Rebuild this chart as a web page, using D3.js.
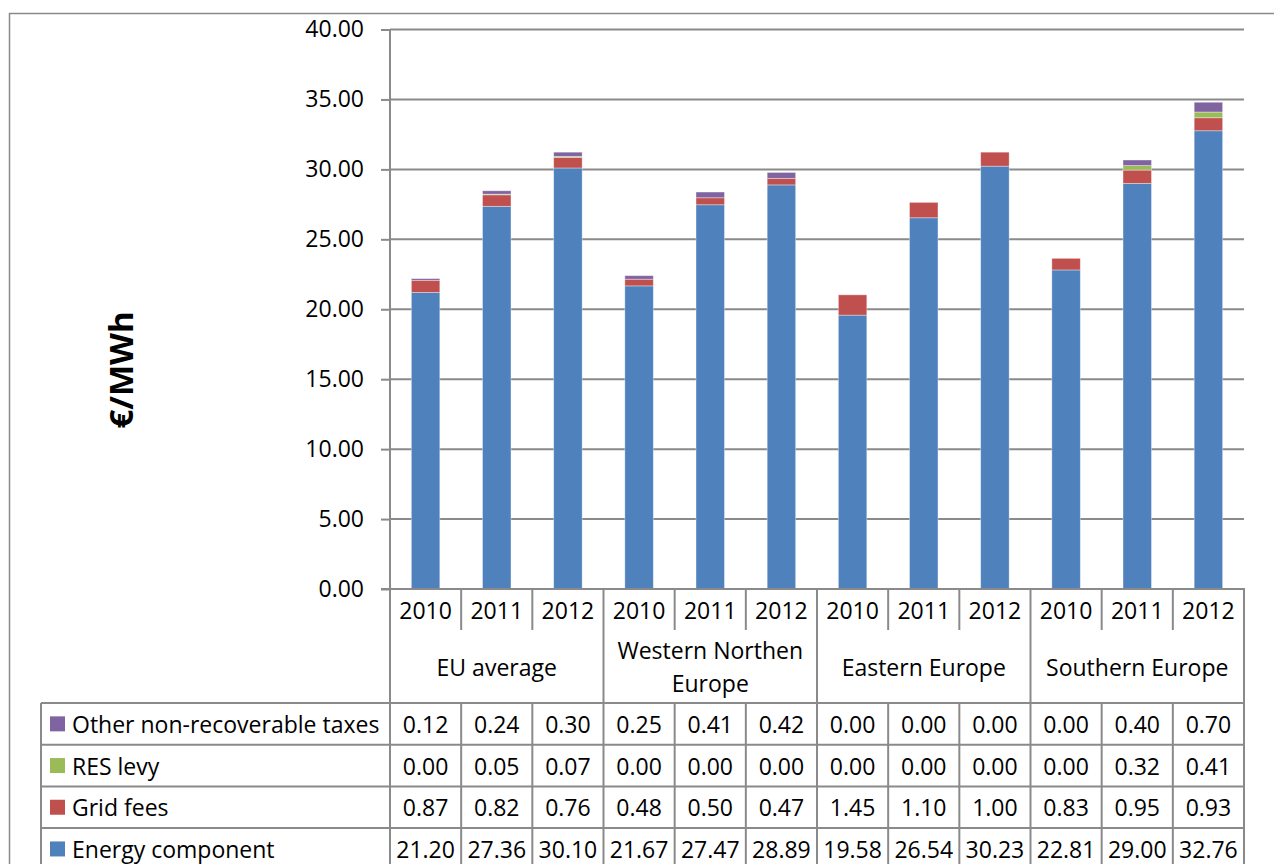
<!DOCTYPE html>
<html>
<head>
<meta charset="utf-8">
<script src="https://cdn.jsdelivr.net/npm/d3@7"></script>
<style>
  html, body { margin: 0; padding: 0; background: #fff; }
  svg { display: block; }
  text { font-family: "Open Sans", Lato, sans-serif; fill: #000; }
</style>
</head>
<body>
<svg id="chart" width="1274" height="864"></svg>
<script>
// Regions and years along the x axis
const groups = ["EU average", "Western Northen\nEurope", "Eastern Europe", "Southern Europe"];
const years = ["2010", "2011", "2012"];

// Price components, €/MWh, one value per region-year (12 columns)
const energyComponent = [21.20, 27.36, 30.10, 21.67, 27.47, 28.89, 19.58, 26.54, 30.23, 22.81, 29.00, 32.76];
const gridFees        = [0.87, 0.82, 0.76, 0.48, 0.50, 0.47, 1.45, 1.10, 1.00, 0.83, 0.95, 0.93];
const resLevy         = [0.00, 0.05, 0.07, 0.00, 0.00, 0.00, 0.00, 0.00, 0.00, 0.00, 0.32, 0.41];
const otherTaxes      = [0.12, 0.24, 0.30, 0.25, 0.41, 0.42, 0.00, 0.00, 0.00, 0.00, 0.40, 0.70];

const yTicks = [0, 5, 10, 15, 20, 25, 30, 35, 40];

// Stack order bottom-to-top; table rows are listed top-to-bottom (reverse)
const seriesList = [
  { name: "Energy component", values: energyComponent, color: "#4F81BD" },
  { name: "Grid fees", values: gridFees, color: "#C0504D" },
  { name: "RES levy", values: resLevy, color: "#9BBB59" },
  { name: "Other non-recoverable taxes", values: otherTaxes, color: "#8064A2" }
];

const svg = d3.select("#chart");
const gridColor = "#8a8a8a";
const fs = "23px";

const plotLeft = 390, plotRight = 1244, plotTop = 29.5, plotBottom = 589;
const yearRowBottom = 630, groupRowBottom = 703, rowH = 41.7;
const legendLeft = 41;

const columns = d3.range(groups.length * years.length);
const x = d3.scaleBand().domain(columns).range([plotLeft, plotRight]).paddingInner(0).paddingOuter(0);
const y = d3.scaleLinear().domain([0, 40]).range([plotBottom, plotTop]);
const barW = x.bandwidth() * 0.4;

// Outer chart frame
svg.append("rect").attr("x", 9.5).attr("y", 13.5).attr("width", 1300).attr("height", 900)
  .attr("fill", "none").attr("stroke", gridColor).attr("stroke-width", 1.5);

// Y axis with gridlines
const yAxis = d3.axisLeft(y).tickValues(yTicks).tickFormat(d3.format(".2f")).tickSize(9).tickPadding(17);
const yg = svg.append("g").attr("transform", `translate(${plotLeft},0)`).call(yAxis);
yg.select(".domain").remove();
yg.selectAll(".tick line").attr("stroke", gridColor).attr("stroke-width", 2);
yg.selectAll(".tick text").style("font-size", fs).style("font-family", "'Open Sans', sans-serif").attr("fill", "#000");

svg.append("g").selectAll("line").data(yTicks.filter(d => d > 0)).join("line")
  .attr("x1", plotLeft).attr("x2", plotRight)
  .attr("y1", d => y(d)).attr("y2", d => y(d))
  .attr("stroke", gridColor).attr("stroke-width", 2);

// Stacked bars
const stackData = columns.map(i => {
  const o = { i };
  seriesList.forEach((s, k) => o["s" + k] = s.values[i]);
  return o;
});
const stack = d3.stack().keys(seriesList.map((s, k) => "s" + k));
const layers = stack(stackData);

svg.append("g").selectAll("g").data(layers).join("g")
  .attr("fill", (d, k) => seriesList[k].color)
  .selectAll("rect").data(d => d).join("rect")
  .attr("x", d => x(d.data.i) + (x.bandwidth() - barW) / 2)
  .attr("width", barW)
  .attr("y", d => y(d[1]))
  .attr("height", d => Math.max(0, y(d[0]) - y(d[1])))
  .attr("stroke", "rgba(255,255,255,0.45)").attr("stroke-width", 0.8);

// Axis baseline and left axis line (continues as table border)
svg.append("line").attr("x1", plotLeft - 9).attr("x2", plotRight + 1)
  .attr("y1", plotBottom).attr("y2", plotBottom).attr("stroke", gridColor).attr("stroke-width", 2);
svg.append("line").attr("x1", plotLeft).attr("x2", plotLeft)
  .attr("y1", plotTop).attr("y2", 870).attr("stroke", gridColor).attr("stroke-width", 2);

// Category rows: year labels and region labels
const tbl = svg.append("g");
columns.forEach(i => {
  const cx = x(i) + x.bandwidth() / 2;
  tbl.append("text").attr("x", cx).attr("y", 610).attr("text-anchor", "middle")
    .attr("dominant-baseline", "central").style("font-size", fs).text(years[i % 3]);
  if (i % 3 !== 0) {
    tbl.append("line").attr("x1", x(i)).attr("x2", x(i)).attr("y1", plotBottom).attr("y2", yearRowBottom)
      .attr("stroke", gridColor).attr("stroke-width", 2);
  }
});
groups.forEach((g, gi) => {
  const gx0 = x(gi * 3), gx1 = x(gi * 3 + 2) + x.bandwidth();
  const lines = g.split("\n");
  const cy = (yearRowBottom + groupRowBottom) / 2;
  lines.forEach((ln, li) => {
    tbl.append("text").attr("x", (gx0 + gx1) / 2)
      .attr("y", cy + (li - (lines.length - 1) / 2) * 33)
      .attr("text-anchor", "middle").attr("dominant-baseline", "central")
      .style("font-size", fs).text(ln);
  });
  tbl.append("line").attr("x1", gx1).attr("x2", gx1).attr("y1", plotBottom).attr("y2", 870)
    .attr("stroke", gridColor).attr("stroke-width", 2);
});

// Data table rows with legend keys
const rows = seriesList.slice().reverse();
rows.forEach((s, r) => {
  const top = groupRowBottom + r * rowH;
  tbl.append("line").attr("x1", legendLeft).attr("x2", plotRight)
    .attr("y1", top).attr("y2", top).attr("stroke", gridColor).attr("stroke-width", 2);
  const cy = top + rowH / 2;
  tbl.append("rect").attr("x", 50).attr("y", cy - 7.5).attr("width", 15).attr("height", 15).attr("fill", s.color);
  tbl.append("text").attr("x", 72).attr("y", cy).attr("dominant-baseline", "central")
    .style("font-size", fs).text(s.name);
  columns.forEach(i => {
    tbl.append("text").attr("x", x(i) + x.bandwidth() / 2).attr("y", cy)
      .attr("text-anchor", "middle").attr("dominant-baseline", "central")
      .style("font-size", fs).text(d3.format(".2f")(s.values[i]));
  });
});
// column separators within the data rows
columns.forEach(i => {
  if (i % 3 !== 0) {
    tbl.append("line").attr("x1", x(i)).attr("x2", x(i)).attr("y1", groupRowBottom).attr("y2", 870)
      .attr("stroke", gridColor).attr("stroke-width", 2);
  }
});
tbl.append("line").attr("x1", legendLeft).attr("x2", legendLeft).attr("y1", groupRowBottom).attr("y2", 870)
  .attr("stroke", gridColor).attr("stroke-width", 2);

// Y axis title
svg.append("text").attr("transform", "translate(133,370) rotate(-90)")
  .attr("text-anchor", "middle")
  .style("font-size", "33px").style("font-weight", "bold").text("€/MWh");
</script>
</body>
</html>
